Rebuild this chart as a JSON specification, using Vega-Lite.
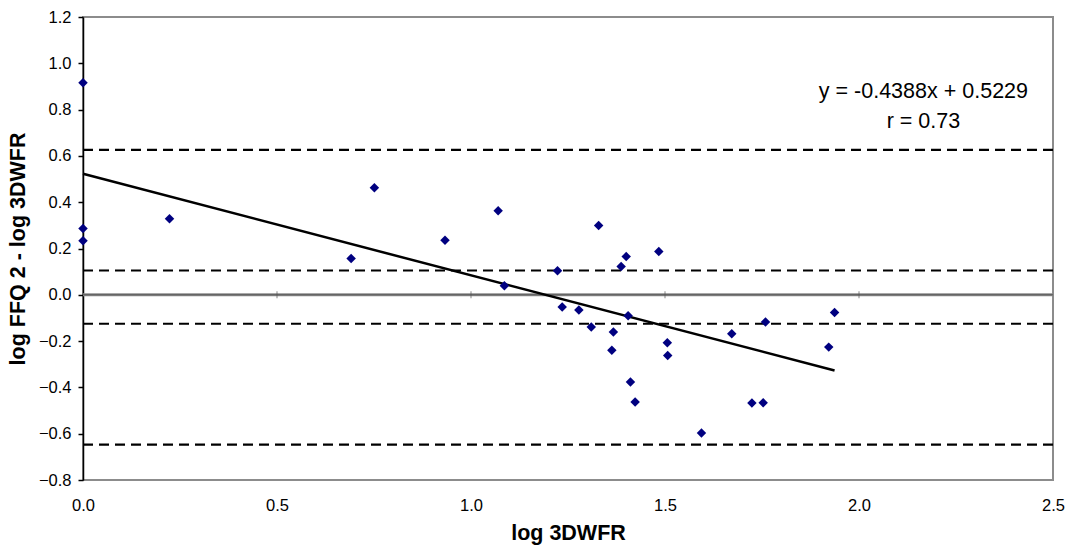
{
  "$schema": "https://vega.github.io/schema/vega-lite/v6.json",
  "width": 970,
  "height": 463,
  "autosize": "none",
  "padding": {"left": 83, "top": 17, "right": 18, "bottom": 73},
  "background": "white",
  "config": {
    "view": {"stroke": "#8c8c8c", "strokeWidth": 2},
    "font": "Liberation Sans",
    "axis": {"labelFont": "Liberation Sans", "titleFont": "Liberation Sans", "labelColor": "black", "titleColor": "black", "grid": false}
  },
  "datasets": {
    "points": [
      {"x": 0.0, "y": 0.916},
      {"x": 0.0, "y": 0.286},
      {"x": 0.0, "y": 0.233},
      {"x": 0.223, "y": 0.329},
      {"x": 0.691, "y": 0.157},
      {"x": 0.751, "y": 0.462},
      {"x": 0.933, "y": 0.236},
      {"x": 1.070, "y": 0.363},
      {"x": 1.086, "y": 0.039},
      {"x": 1.223, "y": 0.104},
      {"x": 1.235, "y": -0.053},
      {"x": 1.278, "y": -0.066},
      {"x": 1.310, "y": -0.139},
      {"x": 1.329, "y": 0.299},
      {"x": 1.367, "y": -0.161},
      {"x": 1.363, "y": -0.240},
      {"x": 1.387, "y": 0.122},
      {"x": 1.400, "y": 0.165},
      {"x": 1.405, "y": -0.091},
      {"x": 1.411, "y": -0.377},
      {"x": 1.423, "y": -0.463},
      {"x": 1.484, "y": 0.187},
      {"x": 1.506, "y": -0.207},
      {"x": 1.507, "y": -0.262},
      {"x": 1.594, "y": -0.597},
      {"x": 1.672, "y": -0.168},
      {"x": 1.724, "y": -0.467},
      {"x": 1.753, "y": -0.466},
      {"x": 1.759, "y": -0.118},
      {"x": 1.922, "y": -0.226},
      {"x": 1.937, "y": -0.076}
    ],
    "fit": [
      {"x": 0.0, "y": 0.5229},
      {"x": 1.937, "y": -0.3271}
    ],
    "limits": [
      {"y": 0.626},
      {"y": 0.105},
      {"y": -0.125},
      {"y": -0.647}
    ],
    "zeroticks": [
      {"x": 0.5, "y": 0},
      {"x": 1.0, "y": 0},
      {"x": 1.5, "y": 0},
      {"x": 2.0, "y": 0}
    ],
    "notes": [
      {"x": 2.166, "y": 0.876, "t": "y = -0.4388x + 0.5229"},
      {"x": 2.166, "y": 0.746, "t": "r = 0.73"}
    ]
  },
  "layer": [
    {
      "data": {"values": [{"y": 0}]},
      "mark": {"type": "rule", "color": "#8c8c8c", "strokeWidth": 3},
      "encoding": {"y": {"field": "y", "type": "quantitative"}}
    },
    {
      "data": {"values": [{"y": 0}]},
      "mark": {"type": "rule", "color": "#555555", "strokeWidth": 1},
      "encoding": {"y": {"field": "y", "type": "quantitative"}}
    },
    {
      "data": {"name": "zeroticks"},
      "mark": {"type": "tick", "orient": "vertical", "color": "#555555", "size": 7, "thickness": 1},
      "encoding": {
        "x": {"field": "x", "type": "quantitative"},
        "y": {"field": "y", "type": "quantitative"}
      }
    },
    {
      "data": {"name": "limits"},
      "mark": {"type": "rule", "color": "black", "strokeWidth": 2.2, "strokeDash": [10, 6]},
      "encoding": {"y": {"field": "y", "type": "quantitative"}}
    },
    {
      "data": {"name": "fit"},
      "mark": {"type": "line", "color": "black", "strokeWidth": 2.5},
      "encoding": {
        "x": {"field": "x", "type": "quantitative"},
        "y": {"field": "y", "type": "quantitative"}
      }
    },
    {
      "data": {"name": "points"},
      "mark": {"type": "point", "shape": "diamond", "filled": true, "color": "#000080", "size": 90, "opacity": 1},
      "encoding": {
        "x": {
          "field": "x", "type": "quantitative",
          "scale": {"domain": [0, 2.5], "nice": false, "zero": false},
          "axis": {
            "title": "log 3DWFR", "values": [0, 0.5, 1, 1.5, 2, 2.5], "format": ".1f",
            "domain": false, "ticks": false, "labelFlush": false, "labelPadding": 17, "labelFontSize": 16.5,
            "titleFontSize": 21.5, "titleFontWeight": "bold", "titlePadding": 9
          }
        },
        "y": {
          "field": "y", "type": "quantitative",
          "scale": {"domain": [-0.8, 1.2], "nice": false, "zero": false},
          "axis": {
            "title": "log FFQ 2 - log 3DWFR", "values": [-0.8, -0.6, -0.4, -0.2, 0, 0.2, 0.4, 0.6, 0.8, 1.0, 1.2], "format": ".1f",
            "domainColor": "black", "domainWidth": 1.5, "tickColor": "black", "tickSize": 5, "tickWidth": 1.5,
            "labelFlush": false, "labelPadding": 7, "labelFontSize": 16.5, "titleFontSize": 21.5, "titleFontWeight": "bold", "titlePadding": 9
          }
        }
      }
    },
    {
      "data": {"name": "notes"},
      "mark": {"type": "text", "fontSize": 21.5, "align": "center", "baseline": "middle", "color": "black", "font": "Liberation Sans"},
      "encoding": {
        "x": {"field": "x", "type": "quantitative"},
        "y": {"field": "y", "type": "quantitative"},
        "text": {"field": "t"}
      }
    }
  ]
}
